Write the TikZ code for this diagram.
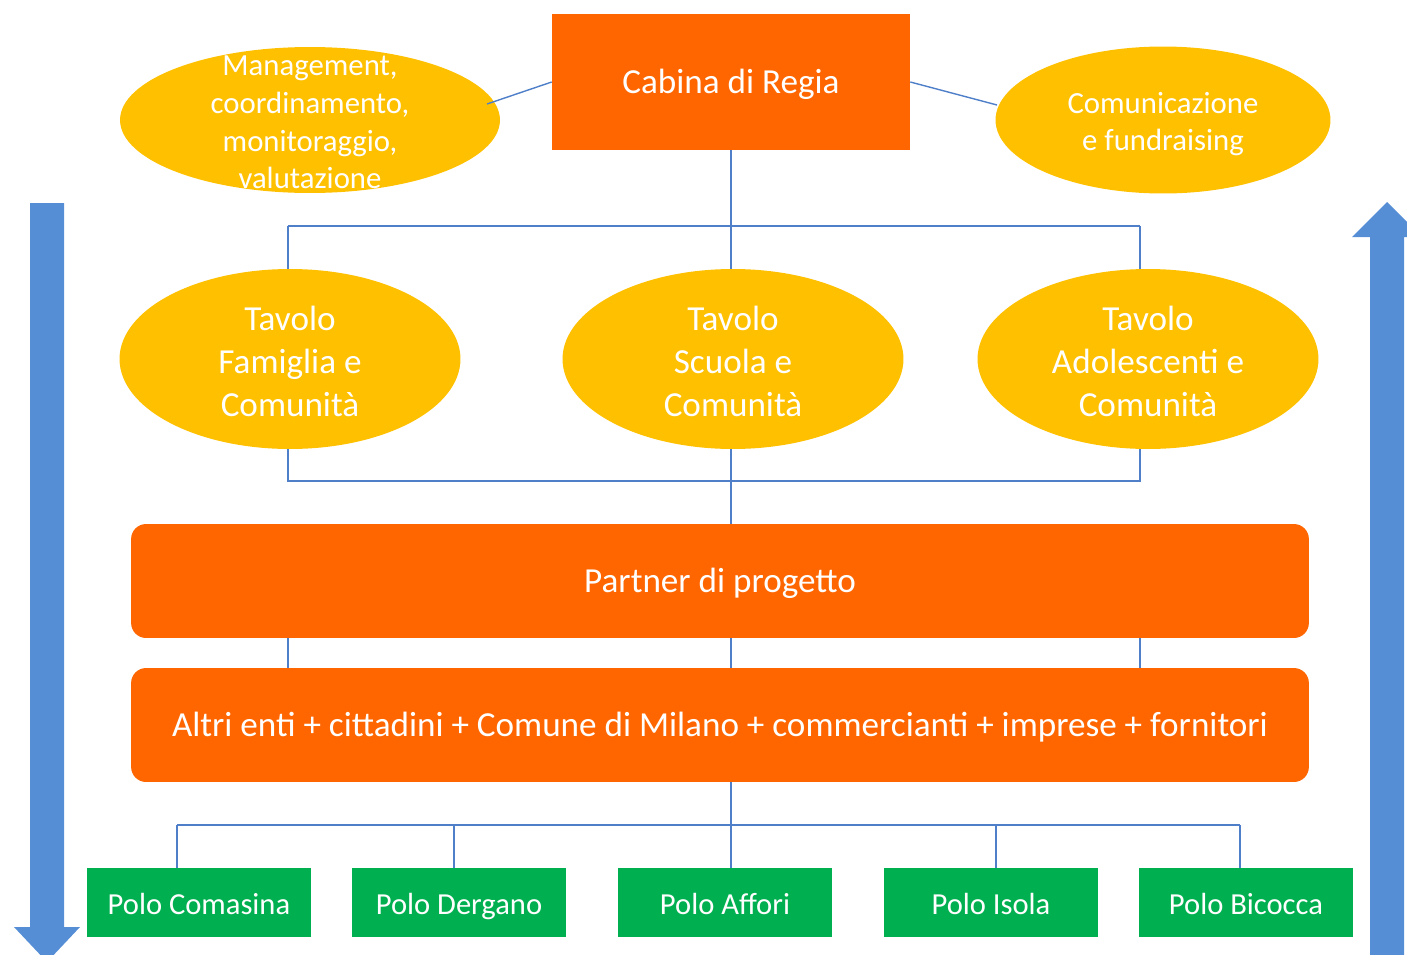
\documentclass[tikz,border=0pt]{standalone}
\usepackage{fontspec}
\setmainfont{Carlito}
\usetikzlibrary{shapes.geometric}

\definecolor{arancio}{HTML}{FF6600}
\definecolor{giallo}{HTML}{FFC000}
\definecolor{verde}{HTML}{00B050}
\definecolor{freccia}{HTML}{558ED5}
\definecolor{linea}{HTML}{4F7FC8}

\begin{document}
\begin{tikzpicture}[x=0.02cm, y=-0.02cm,
	r/.style={rectangle, fill=arancio, text=white, inner sep=0pt, text height=14pt, text depth=0.5pt, font=\fontsize{20}{24}\selectfont},
	pr/.style={r, rounded corners=0.3cm, minimum width=23.56cm, minimum height=2.28cm},
	e/.style={ellipse, fill=giallo, inner sep=0pt},
	t/.style={text=white, align=center, yshift=-0.05cm},
	g/.style={rectangle, fill=verde, text=white, inner sep=0pt, text height=13.4pt, text depth=0pt, minimum height=1.38cm, minimum width=4.28cm, font=\fontsize{17.4}{21}\selectfont},
	l/.style={draw=linea, line width=0.8pt},
	a/.style={fill=freccia}]
		\useasboundingbox (0,0) rectangle (1407,954);
		\clip (0,0) rectangle (1407,954);

		% frecce laterali
		\fill[a] (30,203) -- (64,203) -- (64,927) -- (80,927) -- (47,962) -- (14,927) -- (30,927) -- cycle;
		\fill[a] (1370,960) -- (1370,237) -- (1352,237) -- (1387,202) -- (1422,237) -- (1404,237) -- (1404,960) -- cycle;

		% livello superiore
		\node[r, minimum width=7.16cm, minimum height=2.72cm] (cabina) at (731,82) {Cabina di Regia};
		\node[e, minimum width=7.6cm, minimum height=2.92cm] (mgmt) at (310,120) {};
		\node[t, font=\fontsize{17.5}{21.4}\selectfont] (mgmt_label) at (mgmt) {Management,\\coordinamento,\\monitoraggio,\\valutazione};
		\node[e, minimum width=6.7cm, minimum height=2.94cm] (comun) at (1163,120) {};
		\node[t, yshift=-0.03cm, font=\fontsize{17.5}{21.2}\selectfont] (comun_label) at (comun) {Comunicazione\\e fundraising};

		\coordinate (m) at (487,104);
		\coordinate (c) at (997,105);
		\draw[l] (cabina.west) -- (m);
		\draw[l] (cabina.east) -- (c);

		% tavoli
		\node[e, minimum width=6.82cm, minimum height=3.6cm] (famiglia) at (290,359) {};
		\node[t, font=\fontsize{20}{24.4}\selectfont] (famiglia_label) at (famiglia) {Tavolo\\Famiglia e\\Comunità};
		\node[e, minimum width=6.82cm, minimum height=3.6cm] (scuola) at (733,359) {};
		\node[t, font=\fontsize{20}{24.4}\selectfont] (scuola_label) at (scuola) {Tavolo\\Scuola e\\Comunità};
		\node[e, minimum width=6.82cm, minimum height=3.6cm] (adolescenti) at (1148,359) {};
		\node[t, font=\fontsize{20}{24.4}\selectfont] (adolescenti_label) at (adolescenti) {Tavolo\\Adolescenti e\\Comunità};

		\coordinate (t1) at (288,226);
		\coordinate (t2) at (731,226);
		\coordinate (t3) at (1140,226);
		\draw[l] (cabina.south) -- (t2);
		\draw[l] (t1) -- (t3);
		\draw[l] (t1) -- (t1|-famiglia.north);
		\draw[l] (t2) -- (t2|-scuola.north);
		\draw[l] (t3) -- (t3|-adolescenti.north);

		% partner
		\node[pr] (partner) at (720,581) {Partner di progetto};
		\node[pr] (altri) at (720,725) {Altri enti + cittadini + Comune di Milano + commercianti + imprese + fornitori};

		\coordinate (b1) at (288,481);
		\coordinate (b2) at (731,481);
		\coordinate (b3) at (1140,481);
		\draw[l] (b1|-famiglia.south) -- (b1) -- (b3) -- (b3|-adolescenti.south);
		\draw[l] (b2|-scuola.south) -- (b2|-partner.north);
		\draw[l] (b1|-partner.south) -- (b1|-altri.north);
		\draw[l] (b2|-partner.south) -- (b2|-altri.north);
		\draw[l] (b3|-partner.south) -- (b3|-altri.north);

		% poli
		\node[g, minimum width=4.48cm] (comasina) at (199,902.5) {Polo Comasina};
		\node[g] (dergano) at (459,902.5) {Polo Dergano};
		\node[g] (affori) at (725,902.5) {Polo Affori};
		\node[g] (isola) at (991,902.5) {Polo Isola};
		\node[g] (bicocca) at (1246,902.5) {Polo Bicocca};

		\coordinate (p1) at (177,825);
		\coordinate (p2) at (454,825);
		\coordinate (p3) at (731,825);
		\coordinate (p4) at (996,825);
		\coordinate (p5) at (1240,825);
		\draw[l] (p3|-altri.south) -- (p3);
		\draw[l] (p1) -- (p5);
		\draw[l] (p1) -- (p1|-comasina.north);
		\draw[l] (p2) -- (p2|-dergano.north);
		\draw[l] (p3) -- (p3|-affori.north);
		\draw[l] (p4) -- (p4|-isola.north);
		\draw[l] (p5) -- (p5|-bicocca.north);
	\end{tikzpicture}
\end{document}
